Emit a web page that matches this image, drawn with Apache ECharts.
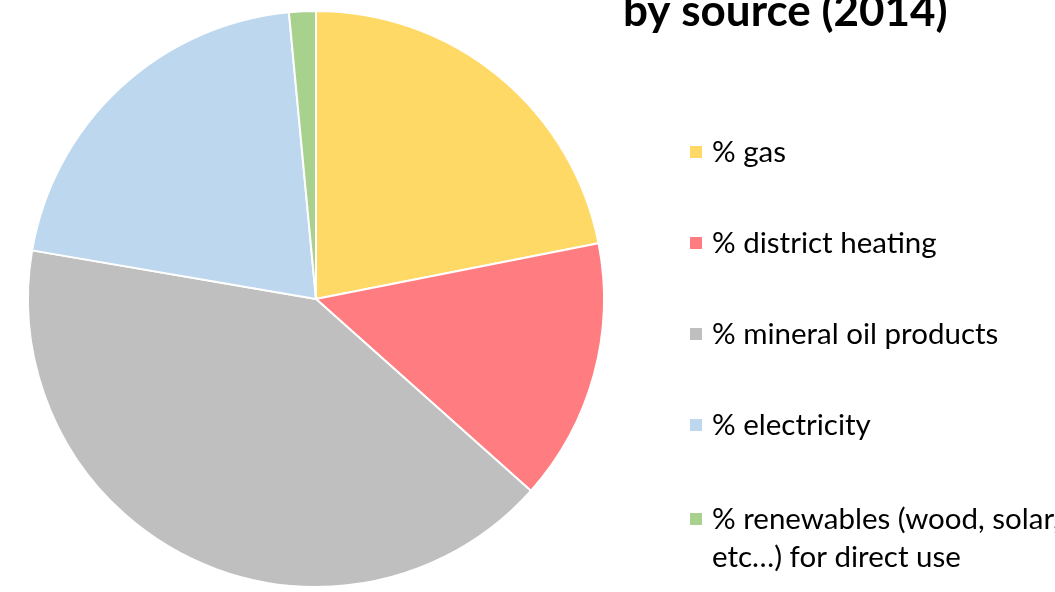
<!DOCTYPE html>
<html lang="en">
<head>
    <meta charset="UTF-8">
    <title>Energy by source (2014)</title>
    <style>
        html, body { margin: 0; padding: 0; background: #fff; }
        #main { width: 1055px; height: 592px; }
    </style>
</head>
<body>
<script src="https://cdn.jsdelivr.net/npm/echarts@6/dist/echarts.min.js"></script>
<div id="main"></div>
<script>
    // values (shares in %)
    var categories = ['% gas', '% district heating', '% mineral oil products', '% electricity',
        '% renewables (wood, solar, etc…) for direct use'];
    var shares = [21.9, 14.7, 41.1, 20.8, 1.5];
    var colors = ['#FFD966', '#FF7C80', '#BFBFBF', '#BDD7EE', '#A9D18E'];

    var pieData = [];
    for (var i = 0; i < categories.length; i++) {
        pieData.push({ name: categories[i], value: shares[i], itemStyle: { color: colors[i] } });
    }

    var chart = echarts.init(document.getElementById('main'));
    var font = 'Lato, "Open Sans", sans-serif';

    chart.setOption({
        animation: false,
        title: {
            text: 'by source (2014)',
            left: 618,
            top: -15,
            textStyle: { fontFamily: font, fontWeight: 'bold', fontSize: 44, color: '#000' }
        },
        legend: [
            {
                data: categories.slice(0, 4),
                orient: 'vertical',
                left: 688,
                top: 137,
                padding: 0,
                itemWidth: 14,
                itemHeight: 14,
                itemGap: 61,
                icon: 'rect',
                textStyle: { fontFamily: font, fontSize: 29.5, color: '#000', lineHeight: 30, padding: [0, 0, 0, 4] },
                selectedMode: false
            },
            {
                data: categories.slice(4),
                orient: 'vertical',
                left: 688,
                top: 462,
                padding: 0,
                itemWidth: 14,
                itemHeight: 14,
                icon: 'rect',
                // blank first line keeps the icon level with the first text line
                formatter: function () {
                    return ' \n% renewables (wood, solar,\netc…) for direct use';
                },
                textStyle: { fontFamily: font, fontSize: 29.5, color: '#000', lineHeight: 38, padding: [0, 0, 0, 4] },
                selectedMode: false
            }
        ],
        series: [{
            type: 'pie',
            center: [316, 299],
            radius: 288,
            startAngle: 90,
            clockwise: true,
            label: { show: false },
            labelLine: { show: false },
            itemStyle: { borderColor: '#fff', borderWidth: 2 },
            emphasis: { disabled: true },
            data: pieData
        }]
    });
</script>
</body>
</html>
